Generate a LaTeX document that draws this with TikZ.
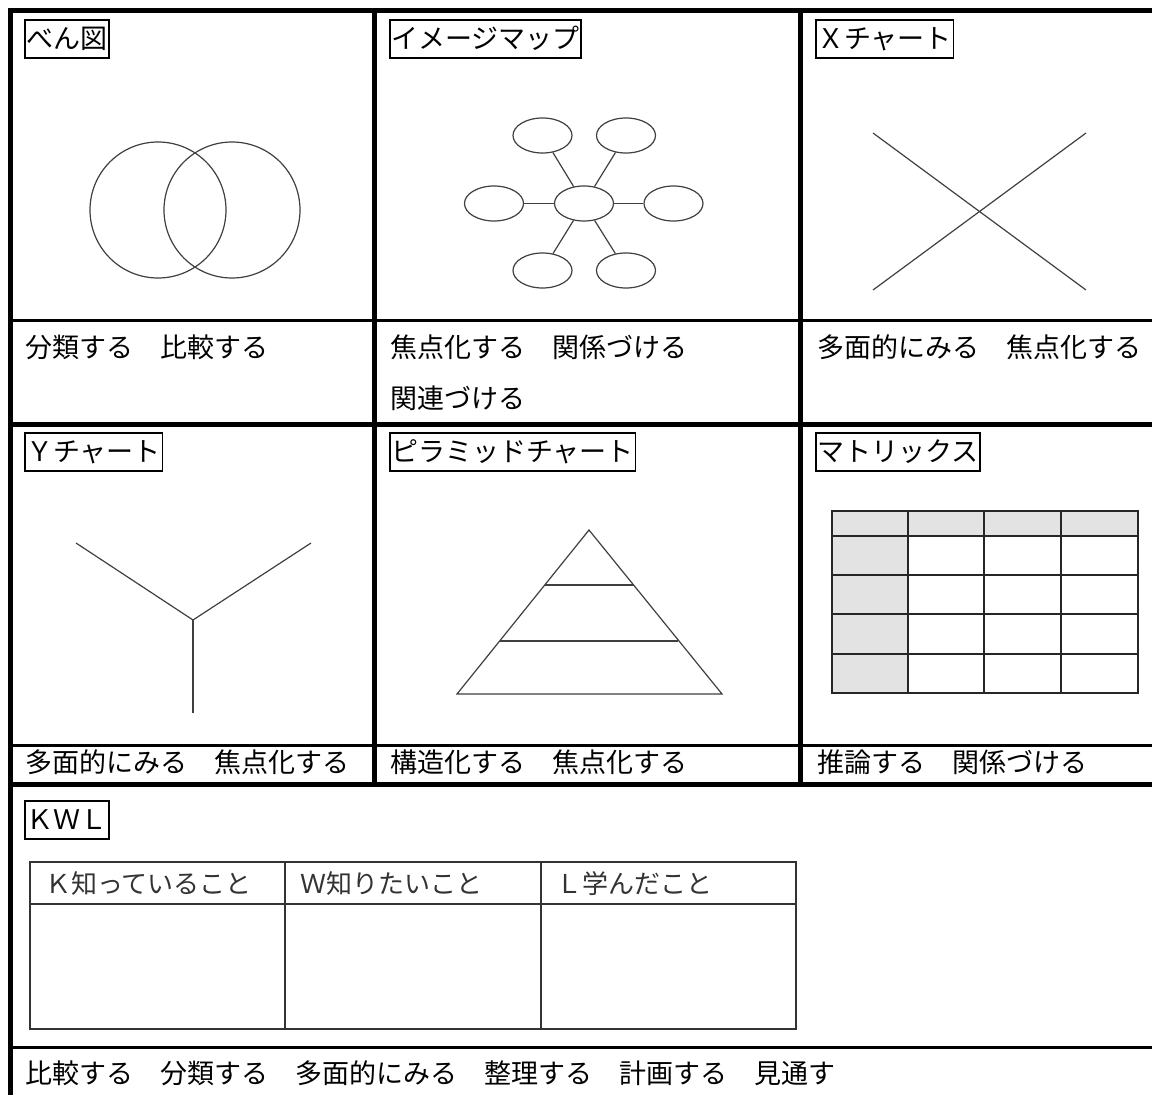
\documentclass[tikz,border=0pt]{standalone}
\usepackage{fontspec}
\setmainfont{Noto Sans CJK JP}
\usetikzlibrary{shapes.geometric}
\begin{document}
\begin{tikzpicture}[x=1pt,y=-1pt,
  frame/.style={line width=5pt},
  rulex/.style={line width=3pt},
  lbl/.style={draw, line width=1.5pt, anchor=north west, minimum height=38pt,
    inner xsep=1.5pt, inner ysep=0pt, text height=23.5pt, text depth=3.5pt,
    font=\fontsize{27pt}{32pt}\selectfont},
  txt/.style={anchor=base west, inner sep=0pt, font=\fontsize{27pt}{32pt}\selectfont},
  kwltxt/.style={anchor=base west, inner sep=0pt, text=black!80, font=\fontsize{26pt}{30pt}\selectfont},
  fig/.style={draw=black!75, line width=1.2pt},
  bub/.style={ellipse, draw=black!75, line width=1.2pt, minimum width=59pt, minimum height=35pt, inner sep=0pt},
  grid/.style={draw=black!85, line width=1.8pt},
  kwl/.style={draw=black!80, line width=2pt}]
\useasboundingbox (0,0) rectangle (1152,1095);
\fill[white] (0,0) rectangle (1152,1095);

% table frame
\draw[frame] (8,10.5) -- (1152,10.5);
\draw[frame] (10.5,8) -- (10.5,1095);
\draw[frame] (374.5,8) -- (374.5,786.5);
\draw[frame] (800.5,8) -- (800.5,786.5);
\draw[frame] (10,424.5) -- (1152,424.5);
\draw[frame] (10,784) -- (1152,784);
\draw[rulex] (10,320) -- (1152,320);
\draw[rulex] (10,745) -- (1152,745);
\draw[rulex] (10,1047) -- (1152,1047);

% labels
\node[lbl] (l1) at (24,19) {べん図};
\node[lbl] (l2) at (389,19) {イメージマップ};
\node[lbl] (l3) at (815,19) {Ｘチャート};
\node[lbl] (l4) at (24,432) {Ｙチャート};
\node[lbl] (l5) at (389,432) {ピラミッドチャート};
\node[lbl] (l6) at (815,432) {マトリックス};
\node[lbl] (l7) at (24,800) {ＫＷＬ};

% texts
\node[txt] (t1) at (25,357) {分類する　比較する};
\node[txt] (t2) at (390,357) {焦点化する　関係づける};
\node[txt] (t2b) at (390,408) {関連づける};
\node[txt] (t3) at (817,357) {多面的にみる　焦点化する};
\node[txt] (t4) at (25,772) {多面的にみる　焦点化する};
\node[txt] (t5) at (390,772) {構造化する　焦点化する};
\node[txt] (t6) at (817,772) {推論する　関係づける};
\node[txt] (t7) at (25,1083) {比較する　分類する　多面的にみる　整理する　計画する　見通す};

% Venn
\draw[fig] (158,210) circle[radius=68pt];
\draw[fig] (232,210) circle[radius=68pt];

% image map
\node[bub] (c) at (584,203.5) {};
\node[bub] (tl) at (542.5,135.5) {};
\node[bub] (tr) at (626,135.5) {};
\node[bub] (ml) at (494,203.5) {};
\node[bub] (mr) at (673.5,203.5) {};
\node[bub] (bl) at (542.5,270.5) {};
\node[bub] (br) at (626,270.5) {};
\foreach \n in {tl,tr,ml,mr,bl,br} \draw[fig] (c) -- (\n);

% X chart
\coordinate (xa) at (873,133);
\coordinate (xb) at (1086,290);
\coordinate (xc) at (873,290);
\coordinate (xd) at (1086,133);
\draw[fig] (xa) -- (xb);
\draw[fig] (xc) -- (xd);

% Y chart
\coordinate (yc) at (193,620);
\coordinate (yl) at (76,543);
\coordinate (yr) at (311,543);
\coordinate (yb) at (193,713);
\draw[fig] (yl) -- (yc) -- (yr);
\draw[fig] (yc) -- (yb);

% Pyramid
\coordinate (pa) at (589,530);
\coordinate (pl) at (457,694);
\coordinate (pr) at (722,694);
\draw[fig, line join=miter] (pa) -- (pl) -- (pr) -- cycle;
\draw[fig] (545,585) -- (634,585);
\draw[fig] (500,641) -- (678,641);

% Matrix
\fill[black!11] (832,511) rectangle (1138,536);
\fill[black!11] (832,536) rectangle (908,693);
\draw[grid] (832,511) rectangle (1138,693);
\foreach \xx in {908,984,1061} \draw[grid] (\xx,511) -- (\xx,693);
\foreach \yy in {536,575,614,654} \draw[grid] (832,\yy) -- (1138,\yy);

% KWL table
\draw[kwl] (30,862) rectangle (796,1029);
\draw[kwl] (285,862) -- (285,1029);
\draw[kwl] (541,862) -- (541,1029);
\draw[kwl] (30,904) -- (796,904);
\node[kwltxt] (k1) at (45,893) {Ｋ知っていること};
\node[kwltxt] (k2) at (300,893) {Ｗ知りたいこと};
\node[kwltxt] (k3) at (556,893) {Ｌ学んだこと};
\end{tikzpicture}
\end{document}
